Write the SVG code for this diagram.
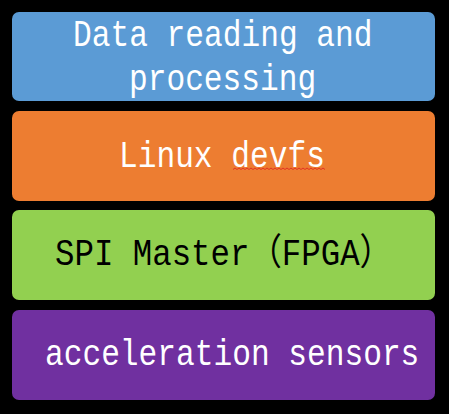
<svg xmlns="http://www.w3.org/2000/svg" width="449" height="414" viewBox="0 0 449 414">
<style>
.box{stroke:none}
.t{font-family:"Liberation Mono","Noto Sans CJK SC",monospace;font-size:31.2px;fill:#fff}
.dark{fill:#000}
</style>
<rect x="0" y="0" width="449" height="414" fill="#000"/>
<g id="node-data">
<rect class="box" x="12" y="12" width="423" height="89" rx="7" fill="#5B9BD5"/>
<text class="t" transform="translate(73,45.5) scale(1,1.19)" x="0" y="0">Data reading and</text>
<text class="t" transform="translate(129,89.5) scale(1,1.19)" x="0" y="0">processing</text>
</g>
<g id="node-devfs">
<rect class="box" x="12" y="111" width="423" height="90" rx="7" fill="#ED7D31"/>
<text class="t" transform="translate(119,166.5) scale(1,1.19)" x="0" y="0">Linux devfs</text>
<path d="M233,169.5 l2,-1.5 l2,1.5 l2,-1.5 l2,1.5 l2,-1.5 l2,1.5 l2,-1.5 l2,1.5 l2,-1.5 l2,1.5 l2,-1.5 l2,1.5 l2,-1.5 l2,1.5 l2,-1.5 l2,1.5 l2,-1.5 l2,1.5 l2,-1.5 l2,1.5 l2,-1.5 l2,1.5 l2,-1.5 l2,1.5 l2,-1.5 l2,1.5 l2,-1.5 l2,1.5 l2,-1.5 l2,1.5 l2,-1.5 l2,1.5 l2,-1.5 l2,1.5 l2,-1.5 l2,1.5 l2,-1.5 l2,1.5 l2,-1.5 l2,1.5 l2,-1.5 l2,1.5 l2,-1.5 l2,1.5 l2,-1.5 l2,1.5" fill="none" stroke="#E02020" stroke-width="0.8"/>
</g>
<g id="node-spi">
<rect class="box" x="12" y="210" width="423" height="90" rx="7" fill="#92D050"/>
<text class="t dark" transform="translate(55,265) scale(1,1.19)" x="0" y="0" textLength="337" lengthAdjust="spacingAndGlyphs">SPI Master（FPGA）</text>
</g>
<g id="node-sensors">
<rect class="box" x="12" y="310" width="423" height="90" rx="7" fill="#7030A0"/>
<text class="t" transform="translate(45,365) scale(1,1.19)" x="0" y="0">acceleration sensors</text>
</g>
<g id="connectors"></g>
</svg>
